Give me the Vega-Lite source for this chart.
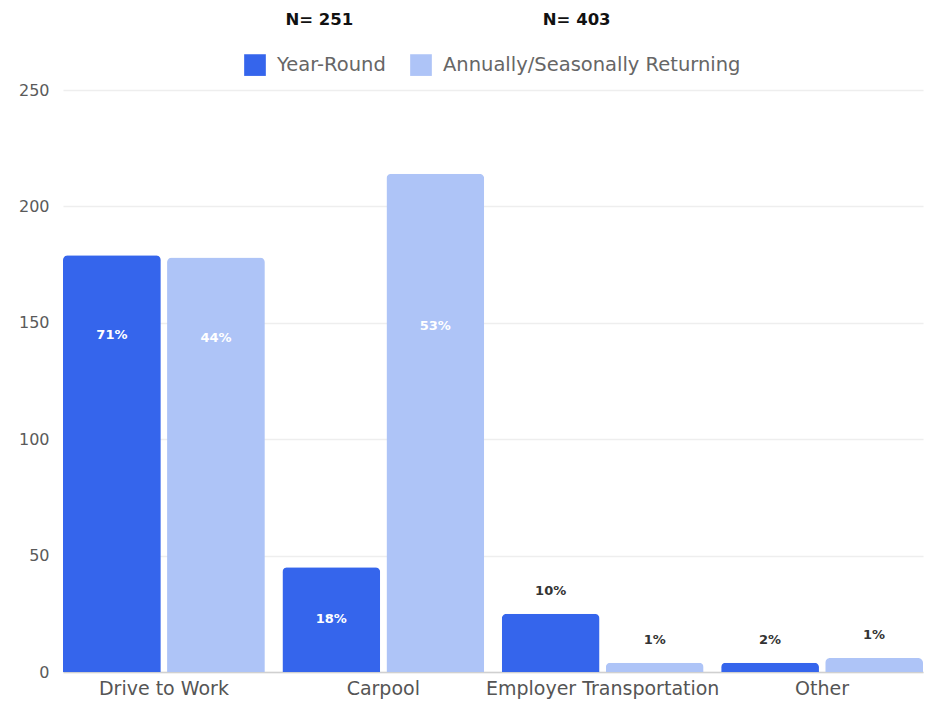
{
  "$schema": "https://vega.github.io/schema/vega-lite/v6.json",
  "width": 860,
  "height": 582,
  "autosize": {"type": "none"},
  "padding": {"left": 63, "top": 90, "right": 14, "bottom": 32},
  "background": "white",
  "title": {
    "text": "N= 251\u00a0\u00a0\u00a0\u00a0\u00a0\u00a0\u00a0\u00a0\u00a0\u00a0\u00a0\u00a0\u00a0\u00a0\u00a0\u00a0\u00a0\u00a0\u00a0\u00a0\u00a0\u00a0\u00a0\u00a0\u00a0\u00a0\u00a0\u00a0\u00a0\u00a0\u00a0\u00a0\u00a0N= 403",
    "anchor": "middle",
    "frame": "group",
    "dx": -45,
    "offset": 26,
    "font": "DejaVu Sans",
    "fontSize": 16.5,
    "fontWeight": "bold",
    "color": "#111111"
  },
  "data": {
    "values": [
      {"mode": "Drive to Work", "group": "Year-Round", "count": 179, "label": "71%"},
      {"mode": "Drive to Work", "group": "Annually/Seasonally Returning", "count": 178, "label": "44%"},
      {"mode": "Carpool", "group": "Year-Round", "count": 45, "label": "18%"},
      {"mode": "Carpool", "group": "Annually/Seasonally Returning", "count": 214, "label": "53%"},
      {"mode": "Employer Transportation", "group": "Year-Round", "count": 25, "label": "10%"},
      {"mode": "Employer Transportation", "group": "Annually/Seasonally Returning", "count": 4, "label": "1%"},
      {"mode": "Other", "group": "Year-Round", "count": 4, "label": "2%"},
      {"mode": "Other", "group": "Annually/Seasonally Returning", "count": 6, "label": "1%"}
    ]
  },
  "encoding": {
    "x": {
      "field": "mode",
      "type": "nominal",
      "sort": ["Drive to Work", "Carpool", "Employer Transportation", "Other"],
      "scale": {"paddingInner": 0.08, "paddingOuter": 0},
      "axis": {
        "title": null,
        "labelAngle": 0,
        "labelFont": "DejaVu Sans",
        "labelFontSize": 19,
        "labelColor": "#555555",
        "labelPadding": 7,
        "labelLimit": 400,
        "ticks": false,
        "domain": true,
        "domainColor": "#d0d0d0",
        "domainWidth": 1.5
      }
    },
    "xOffset": {
      "field": "group",
      "type": "nominal",
      "sort": ["Year-Round", "Annually/Seasonally Returning"],
      "scale": {"paddingInner": 0.06, "paddingOuter": 0}
    }
  },
  "layer": [
    {
      "mark": {"type": "bar", "cornerRadiusTopLeft": 5, "cornerRadiusTopRight": 5},
      "encoding": {
        "y": {
          "field": "count",
          "type": "quantitative",
          "scale": {"domain": [0, 250], "nice": false},
          "axis": {
            "title": null,
            "values": [0, 50, 100, 150, 200, 250],
            "labelFont": "DejaVu Sans",
            "labelFontSize": 16,
            "labelColor": "#5a5a5a",
            "labelPadding": 14,
            "ticks": false,
            "domain": false,
            "grid": true,
            "gridColor": "#eeeeee",
            "gridWidth": 1.5
          }
        },
        "color": {
          "field": "group",
          "type": "nominal",
          "scale": {
            "domain": ["Year-Round", "Annually/Seasonally Returning"],
            "range": ["#3565ec", "#aec4f7"]
          },
          "legend": {
            "title": null,
            "orient": "none",
            "direction": "horizontal",
            "legendX": 181,
            "legendY": -36,
            "symbolType": "square",
            "symbolSize": 470,
            "symbolStrokeWidth": 0,
            "symbolOpacity": 1,
            "labelFont": "DejaVu Sans",
            "labelFontSize": 19.5,
            "labelColor": "#666666",
            "labelOffset": 11,
            "labelLimit": 500,
            "columnPadding": 24
          }
        }
      }
    },
    {
      "transform": [{"filter": "datum.count >= 150 && datum.count < 200"}],
      "mark": {"type": "text", "dy": 80, "baseline": "middle", "font": "DejaVu Sans", "fontSize": 13, "fontWeight": "bold", "color": "white"},
      "encoding": {"y": {"field": "count", "type": "quantitative"}, "text": {"field": "label"}}
    },
    {
      "transform": [{"filter": "datum.count >= 200"}],
      "mark": {"type": "text", "dy": 152, "baseline": "middle", "font": "DejaVu Sans", "fontSize": 13, "fontWeight": "bold", "color": "white"},
      "encoding": {"y": {"field": "count", "type": "quantitative"}, "text": {"field": "label"}}
    },
    {
      "transform": [{"filter": "datum.count >= 40 && datum.count < 150"}],
      "mark": {"type": "text", "dy": 52, "baseline": "middle", "font": "DejaVu Sans", "fontSize": 13, "fontWeight": "bold", "color": "white"},
      "encoding": {"y": {"field": "count", "type": "quantitative"}, "text": {"field": "label"}}
    },
    {
      "transform": [{"filter": "datum.count < 40"}],
      "mark": {"type": "text", "dy": -23, "baseline": "middle", "font": "DejaVu Sans", "fontSize": 13, "fontWeight": "bold", "color": "#333333"},
      "encoding": {"y": {"field": "count", "type": "quantitative"}, "text": {"field": "label"}}
    }
  ],
  "config": {"view": {"stroke": null}}
}
